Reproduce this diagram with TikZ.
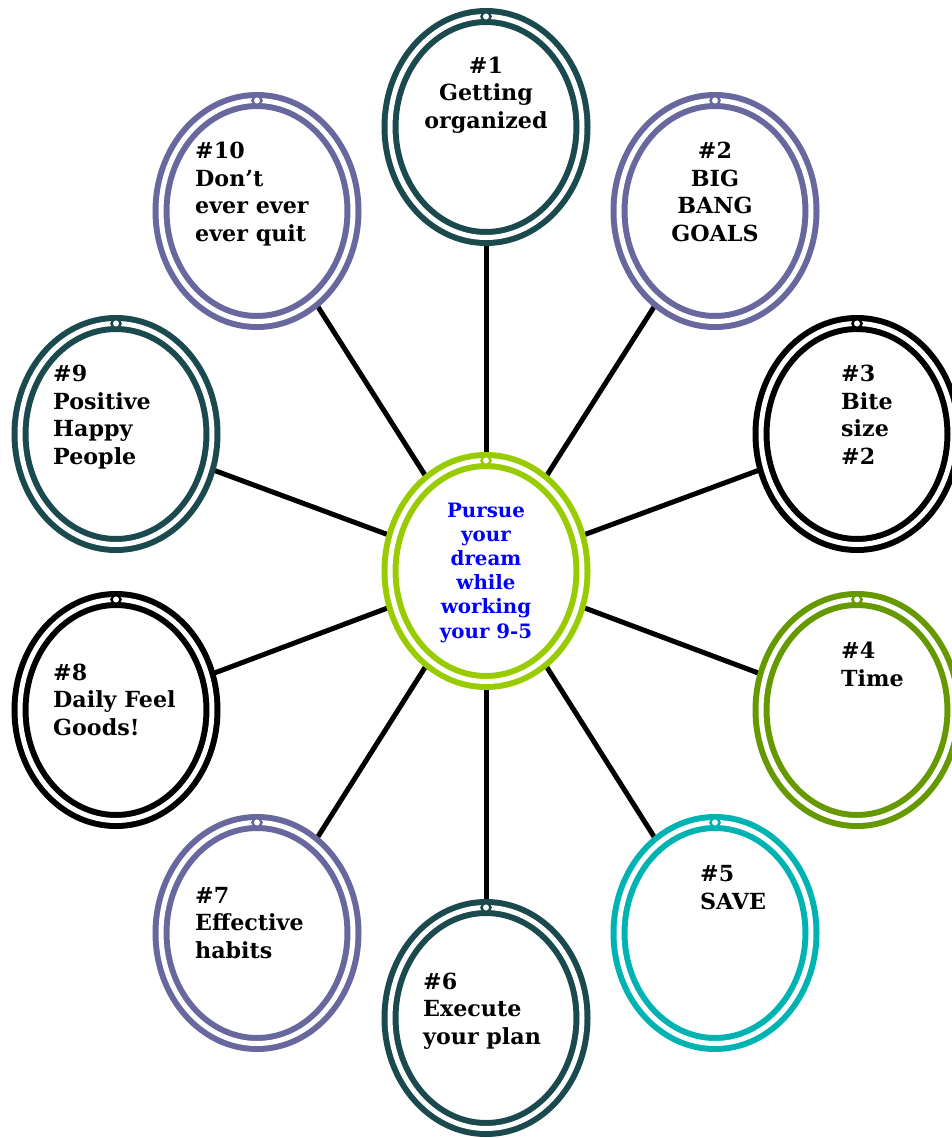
\documentclass[tikz,border=0pt]{standalone}
\usepackage{fontspec}
\setmainfont{DejaVu Serif}
\usepackage{xcolor}
\usepackage{tikz}
\usetikzlibrary{shapes.geometric,positioning,backgrounds}
\definecolor{hoopteal}{RGB}{27,74,78}
\definecolor{hooppurple}{RGB}{104,104,158}
\definecolor{hoopolive}{RGB}{102,153,0}
\definecolor{hoopcyan}{RGB}{0,179,179}
\definecolor{hooplime}{RGB}{153,204,0}

\begin{document}
\begin{tikzpicture}[x=1pt,y=-1pt,
                    hoop/.style={ellipse, draw=#1, line width=6pt, double=white,
                                 double distance=5pt, minimum width=192pt,
                                 minimum height=221pt, inner sep=0pt, outer sep=0pt},
                    link/.style={line width=5pt, black},
                    txt/.style={font=\bfseries\fontsize{22.2}{27.5}\selectfont,
                                inner sep=0pt, align=left},
                    hub/.style={font=\bfseries\fontsize{19.8}{24.2}\selectfont,
                                inner sep=0pt, align=center, blue},
                   ]

\useasboundingbox (0,0) rectangle (952,1138);

% hoops
\node[hoop=hooplime]   (c)   at (486,571) {};
\node[hoop=hoopteal]   (h1)  at (486,127) {};
\node[hoop=hooppurple] (h2)  at (715,211) {};
\node[hoop=black]      (h3)  at (857,434) {};
\node[hoop=hoopolive]  (h4)  at (857,710) {};
\node[hoop=hoopcyan]   (h5)  at (715,933) {};
\node[hoop=hoopteal]   (h6)  at (486,1018) {};
\node[hoop=hooppurple] (h7)  at (257,933) {};
\node[hoop=black]      (h8)  at (116,710) {};
\node[hoop=hoopteal]   (h9)  at (116,434) {};
\node[hoop=hooppurple] (h10) at (257,211) {};

% little screw loops on top
\foreach \h/\col in {c/hooplime,h1/hoopteal,h2/hooppurple,h3/black,h4/hoopolive,
                     h5/hoopcyan,h6/hoopteal,h7/hooppurple,h8/black,h9/hoopteal,h10/hooppurple}
  \draw[draw=\col, fill=white, line width=2.5pt] (\h.north) circle (4.5);

\begin{pgfonlayer}{background}
\foreach \h in {h1,h2,h3,h4,h5,h6,h7,h8,h9,h10}
  \draw[link] (c) -- (\h);
\end{pgfonlayer}

% texts (anchored on the last baseline)
\node[hub, anchor=base] (tc) at (486,638) {Pursue\\your\\dream\\while\\working\\your 9-5};
\node[txt, align=center, anchor=base] (t1) at (486,128) {\#1\\Getting\\organized};
\node[txt, align=center, anchor=base] (t2) at (715,241) {\#2\\BIG\\BANG\\GOALS};
\node[txt, anchor=base west] (t3)  at (841,464)  {\#3\\Bite\\size\\\#2};
\node[txt, anchor=base west] (t4)  at (841,686)  {\#4\\Time};
\node[txt, anchor=base west] (t5)  at (700,909)  {\#5\\SAVE};
\node[txt, anchor=base west] (t6)  at (423,1044) {\#6\\Execute\\your plan};
\node[txt, anchor=base west] (t7)  at (195,958)  {\#7\\Effective\\habits};
\node[txt, anchor=base west] (t8)  at (53,735)   {\#8\\Daily Feel\\Goods!};
\node[txt, anchor=base west] (t9)  at (53,464)   {\#9\\Positive\\Happy\\People};
\node[txt, anchor=base west] (t10) at (195,241)  {\#10\\Don’t\\ever ever\\ever quit};

\end{tikzpicture}
\end{document}
